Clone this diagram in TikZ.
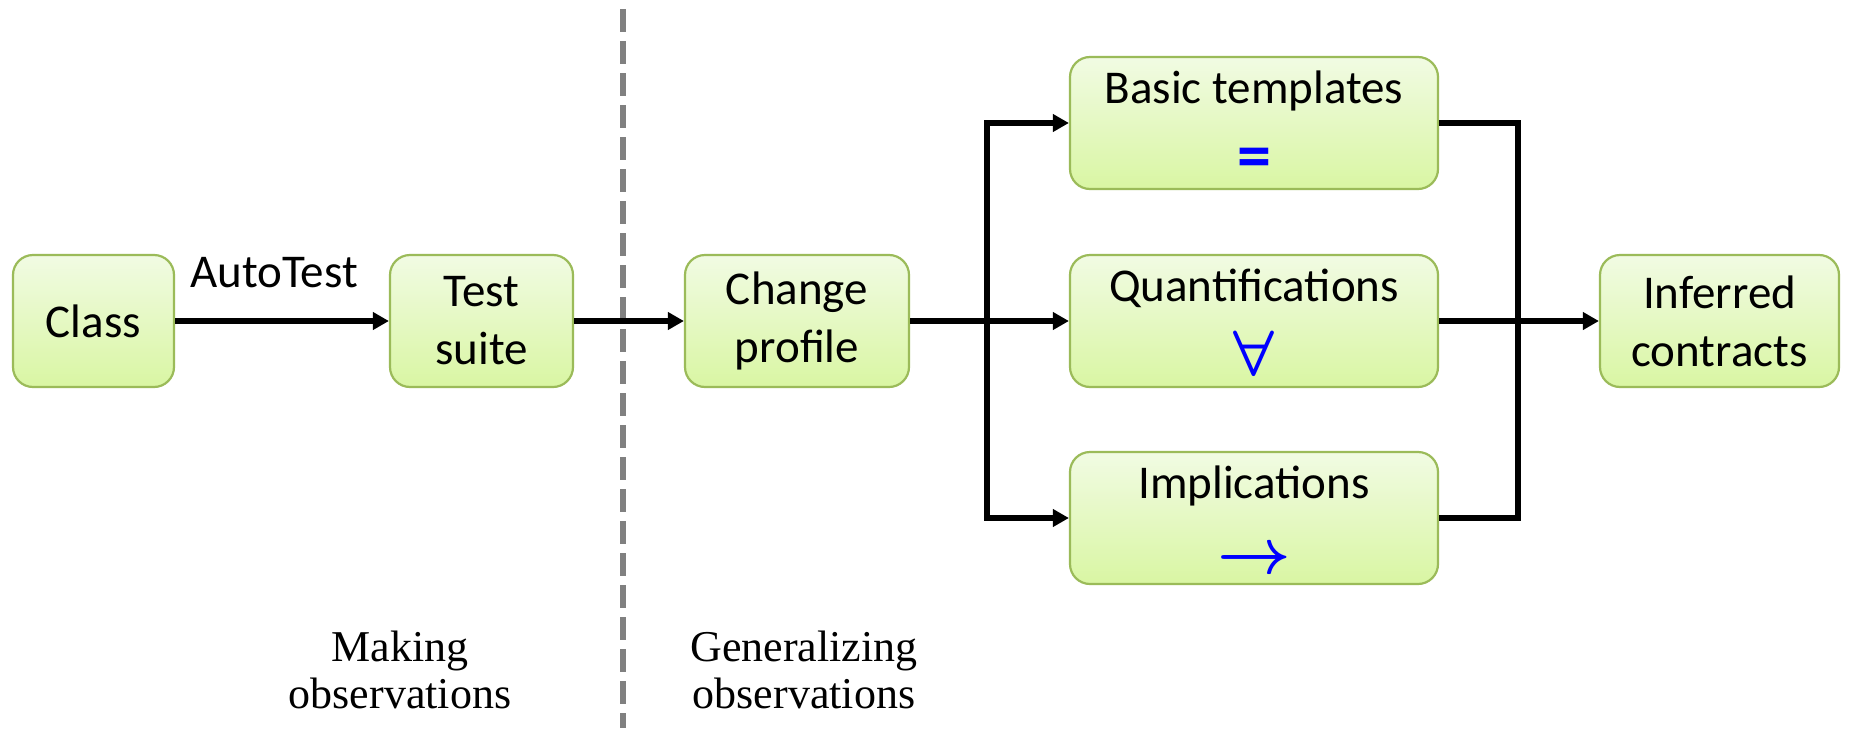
\RequirePackage{fix-cm}
\documentclass[tikz,border=0pt]{standalone}
\usepackage{fontspec}
\setmainfont{Carlito}
\newfontfamily\capfont{Liberation Serif}
\usetikzlibrary{arrows.meta}
\definecolor{boxtop}{HTML}{F1FBE3}
\definecolor{boxbot}{HTML}{D9F6A3}
\definecolor{boxline}{HTML}{9BBB59}
\definecolor{symblue}{HTML}{0000FF}
\definecolor{divgray}{HTML}{808080}
\begin{document}
\begin{tikzpicture}[x=0.5pt,y=-0.5pt,
  box/.style={draw=boxline, line width=1.1pt, rounded corners=10pt,
    top color=boxtop, bottom color=boxbot, inner sep=0pt, align=center,
    minimum height=66pt, font=\fontsize{23.5pt}{29pt}\selectfont},
  wide/.style={box, minimum width=184pt},
  txt/.style={inner sep=0pt, font=\fontsize{23.5pt}{29pt}\selectfont},
  sym/.style={inner sep=0pt, text=symblue},
  conn/.style={line width=2.6pt, black},
  arr/.style={conn, -{Triangle[length=8pt,width=8.5pt]}},
  divider/.style={line width=3pt, divgray, dash pattern=on 11.5pt off 4.5pt},
  caption/.style={inner sep=0pt, align=center, font=\capfont\fontsize{22pt}{23.5pt}\selectfont}]
\useasboundingbox (0,0) rectangle (1851,728);

% divider
\coordinate (dtop) at (623,9);
\coordinate (dbot) at (623,728);
\draw[divider] (dtop) -- (dbot);

% boxes
\node[box, minimum width=80.5pt] (class) at (93.5,321) {Class};
\node[box, minimum width=91.5pt] (ts) at (481.5,321) {Test\\suite};
\node[box, minimum width=112pt] (cp) at (797,321) {Change\\profile};
\node[wide] (basic) at (1254,123) {};
\node[wide] (quant) at (1254,321) {};
\node[wide] (impl) at (1254,518) {};
\node[box, minimum width=119.5pt] (inf) at (1719.5,321) {Inferred\\contracts};

% box texts
\node[txt, anchor=base] (basicT) at ([yshift=10pt]basic.center) {Basic templates};
\node[sym, font=\fontsize{34pt}{34pt}\selectfont\bfseries] (basicS) at ([yshift=-20pt]basic.center) {=};
\node[txt, anchor=base] (quantT) at ([yshift=10pt]quant.center) {Quantifications};
\node[sym, font=\fontsize{32pt}{32pt}\selectfont\boldmath] (quantS) at ([yshift=-16pt]quant.center) {$\forall$};
\node[txt, anchor=base] (implT) at ([yshift=10pt]impl.center) {Implications};
\node[sym, font=\fontsize{32pt}{32pt}\selectfont\boldmath] (implS) at ([yshift=-21.5pt]impl.center) {$\rightarrow$};

% connectors
\coordinate (split) at (987,321);
\coordinate (merge) at (1518,321);
\draw[arr] (class) -- (ts);
\node[txt, anchor=base] (autotest) at (274,287) {AutoTest};
\draw[arr] (ts) -- (cp);
\draw[arr] (cp) -- (quant);
\draw[arr] (split) |- (basic);
\draw[arr] (split) |- (impl);
\draw[conn] (basic) -| (merge);
\draw[conn] (impl) -| (merge);
\draw[arr] (quant) -- (inf);

% captions
\node[caption, anchor=base] (making) at (400,708) {Making\\observations};
\node[caption, anchor=base] (general) at (804,708) {Generalizing\\observations};
\end{tikzpicture}
\end{document}
